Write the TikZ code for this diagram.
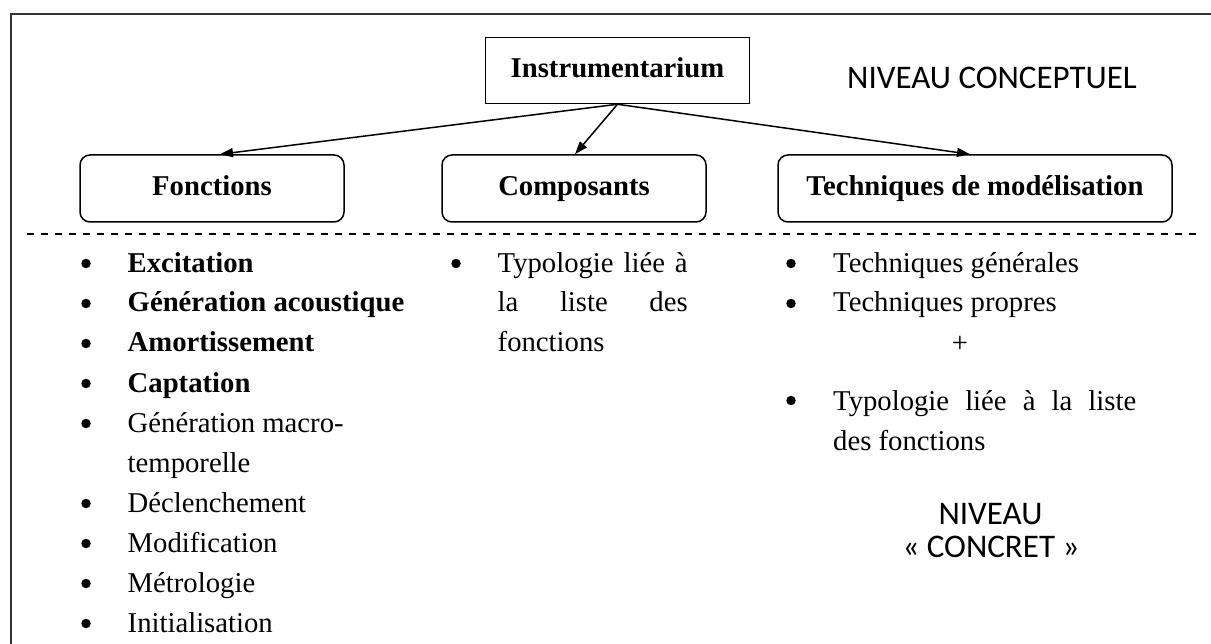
\documentclass[tikz,border=0pt]{standalone}
\usepackage{fontspec}
\setmainfont{Liberation Serif}
\newfontfamily\calibfont{Carlito}
\usetikzlibrary{arrows.meta}
\begin{document}
\begin{tikzpicture}[x=1pt,y=-1pt,
  txt/.style={font=\fontsize{28.7}{40}\selectfont, inner sep=0pt, anchor=base west},
  btxt/.style={txt, font=\fontsize{28.7}{40}\selectfont\bfseries},
  sanstxt/.style={font=\fontsize{33}{36}\selectfont\calibfont, inner sep=0pt, anchor=base},
  bul/.style={circle, fill=black, inner sep=0pt, minimum size=9.5pt},
  headbox/.style={draw, line width=1.5pt, inner sep=0pt, text height=20pt, text depth=6pt,
    minimum height=66pt, font=\fontsize{28.7}{34}\selectfont\bfseries},
  rbox/.style={headbox, rounded corners=10pt, minimum height=67pt},
  arr/.style={line width=1.5pt, -{Triangle[length=13pt,width=9pt]}},
  frame/.style={line width=2pt, black!80},
  sep/.style={line width=1.2pt, dash pattern=on 7pt off 7pt}]
\useasboundingbox (0,0) rectangle (1211,644);
% outer frame (clipped at right and bottom)
\draw[frame] (11,644) -- (11,14) -- (1211,14);
% top box
\node[headbox, minimum width=264pt] (instr) at (617.5,70.5) {Instrumentarium};
\node[sanstxt] (conc) at (992,89) {NIVEAU CONCEPTUEL};
% second row boxes
\node[rbox, minimum width=264pt] (fonc) at (212,188.5) {Fonctions};
\node[rbox, minimum width=264pt] (comp) at (574,188.5) {Composants};
\node[rbox, minimum width=394pt] (tech) at (975,188.5) {Techniques de mod\'elisation};
% arrows
\draw[arr] (instr.south) -- ([xshift=8pt]fonc.north);
\draw[arr] (instr.south) -- ([xshift=1pt]comp.north);
\draw[arr] (instr.south) -- ([xshift=-5pt]tech.north);
% dashed separator
\draw[sep] (27,234) -- (1196,234);
% column 1
\node[bul] (b1) at (86,263.5) {};
\node[btxt] (t1) at (127.5,273) {Excitation};
\node[bul] (b2) at (86,303.5) {};
\node[btxt] (t2) at (127.5,312) {Génération acoustique};
\node[bul] (b3) at (86,343.5) {};
\node[btxt] (t3) at (127.5,352) {Amortissement};
\node[bul] (b4) at (86,383.5) {};
\node[btxt] (t4) at (127.5,392) {Captation};
\node[bul] (b5) at (86,423.5) {};
\node[txt] (t5) at (127.5,432) {Génération macro-};
\node[txt] (t5b) at (127.5,472) {temporelle};
\node[bul] (b6) at (86,503.5) {};
\node[txt] (t6) at (127.5,512) {Déclenchement};
\node[bul] (b7) at (86,543.5) {};
\node[txt] (t7) at (127.5,552) {Modification};
\node[bul] (b8) at (86,583.5) {};
\node[txt] (t8) at (127.5,592) {Métrologie};
\node[bul] (b9) at (86,623.5) {};
\node[txt] (t9) at (127.5,632) {Initialisation};
% column 2
\node[bul] (cb1) at (456,263.5) {};
\node[txt] (ct1) at (497.5,273) {\makebox[190pt][s]{Typologie liée à}};
\node[txt] (ct2) at (497.5,312) {\makebox[190pt][s]{la liste des}};
\node[txt] (ct3) at (497.5,352) {fonctions};
% column 3
\node[bul] (db1) at (791,263.5) {};
\node[txt] (dt1) at (833,273) {Techniques générales};
\node[bul] (db2) at (791,303.5) {};
\node[txt] (dt2) at (833,312) {Techniques propres};
\node[txt, anchor=base] (plus) at (960,353) {+};
\node[bul] (db3) at (791,400.5) {};
\node[txt] (dt3) at (833,410) {\makebox[303pt][s]{Typologie liée à la liste}};
\node[txt] (dt4) at (833,450) {des fonctions};
% concrete level
\node[sanstxt] (niv) at (990.5,524) {NIVEAU};
\node[sanstxt] (concr) at (991,557) {« CONCRET »};
\end{tikzpicture}
\end{document}
